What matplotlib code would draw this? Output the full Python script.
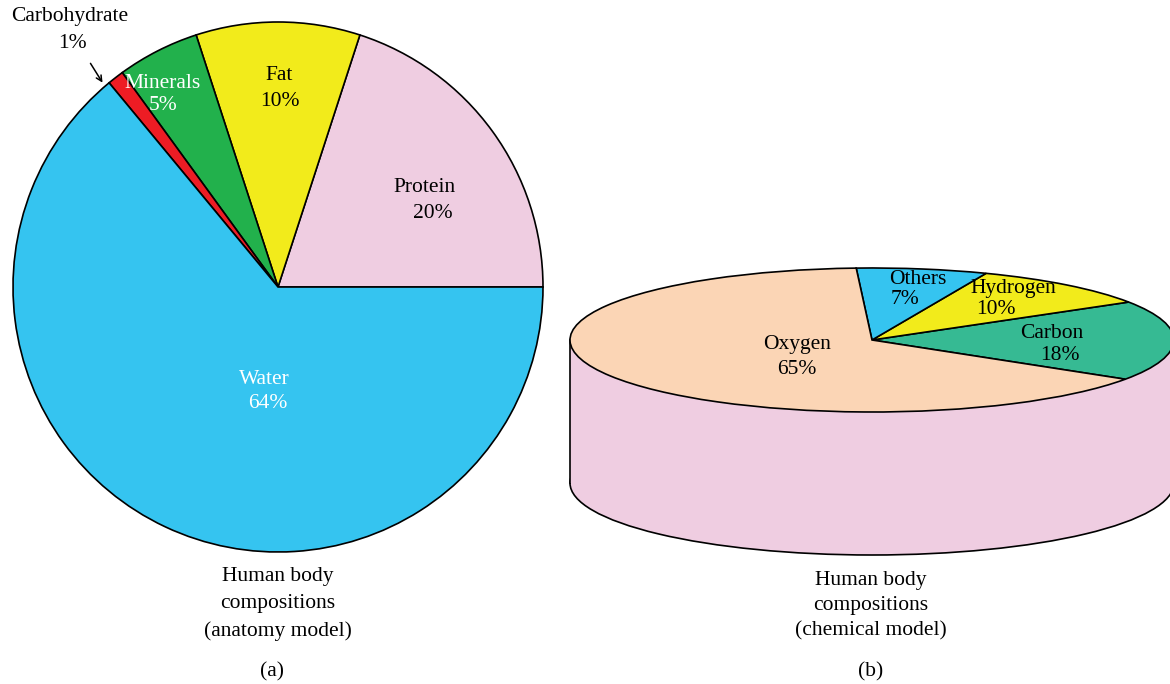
import matplotlib
matplotlib.use("Agg")
import matplotlib.pyplot as plt
from matplotlib.patches import Ellipse, Rectangle
from matplotlib.transforms import Affine2D

plt.rcParams['font.family'] = ['Liberation Serif', 'DejaVu Serif']

# anatomy model (counterclockwise from 3 o'clock)
anat_labels = ['Protein', 'Fat', 'Minerals', 'Carbohydrate', 'Water']
anat_values = [20, 10, 5, 1, 64]
anat_colors = ['#efcde1', '#f2eb1b', '#22b14c', '#ed1c24', '#35c4f0']

# chemical model (counterclockwise)
chem_labels = ['Carbon', 'Hydrogen', 'Others', 'Oxygen']
chem_values = [18, 10, 7, 65]
chem_colors = ['#36ba93', '#f2eb1b', '#35c4f0', '#fbd5b5']
side_color = '#efcde1'

W, H = 1170, 684
fig = plt.figure(figsize=(W / 100, H / 100), dpi=100)
ax = fig.add_axes([0, 0, 1, 1])

def fy(y):
    # image rows -> axes y (up)
    return H - y

edge = dict(edgecolor='black', linewidth=1.2)
fs = 15.5

# ---- left: flat pie ----
lc = (278, fy(287))
ax.pie(anat_values, colors=anat_colors, center=lc, radius=265,
       startangle=0, counterclock=True, wedgeprops=edge)

ax.text(163, fy(83), 'Minerals', color='white', fontsize=fs, ha='center', va='center')
ax.text(163, fy(106), '5%', color='white', fontsize=fs, ha='center', va='center')
ax.text(279, fy(76), 'Fat', fontsize=fs, ha='center', va='center')
ax.text(280, fy(101), '10%', fontsize=fs, ha='center', va='center')
ax.text(425, fy(188), 'Protein', fontsize=fs, ha='center', va='center')
ax.text(433, fy(213), '20%', fontsize=fs, ha='center', va='center')
ax.text(264, fy(379), 'Water', color='white', fontsize=fs, ha='center', va='center')
ax.text(268, fy(404), '64%', color='white', fontsize=fs, ha='center', va='center')
ax.text(70, fy(17), 'Carbohydrate', fontsize=fs, ha='center', va='center')
ax.text(72, fy(44), '1%', fontsize=fs, ha='center', va='center')
ax.annotate('', xy=(104, fy(85)), xytext=(89, fy(61)),
            arrowprops=dict(arrowstyle='->', color='black', lw=1.1))

for i, t in enumerate(['Human body', 'compositions', '(anatomy model)']):
    ax.text(278, fy(576 + 27.5 * i), t, fontsize=fs, ha='center', va='center')
ax.text(272, fy(672), '(a)', fontsize=fs, ha='center', va='center')

# ---- right: tilted pie on a cylinder ----
cx, cy = 872, fy(340)
rx, ry = 302, 72
depth = 143

ax.add_patch(Ellipse((cx, cy - depth), 2 * rx, 2 * ry, facecolor=side_color,
                     edgecolor='black', linewidth=1.2, zorder=1))
ax.add_patch(Rectangle((cx - rx, cy - depth), 2 * rx, depth,
                       facecolor=side_color, edgecolor='none', zorder=1.5))
ax.plot([cx - rx, cx - rx], [cy, cy - depth], color='black', lw=1.2, zorder=1.6)
ax.plot([cx + rx, cx + rx], [cy, cy - depth], color='black', lw=1.2, zorder=1.6)

wedges, _ = ax.pie(chem_values, colors=chem_colors, center=(0, 0), radius=rx,
                   startangle=-33, counterclock=True, wedgeprops=edge)
squash = Affine2D().scale(1, ry / rx).translate(cx, cy) + ax.transData
for w in wedges:
    w.set_transform(squash)
    w.set_zorder(2)

ax.text(797, fy(344), 'Oxygen', fontsize=fs, ha='center', va='center', zorder=3)
ax.text(797, fy(369), '65%', fontsize=fs, ha='center', va='center', zorder=3)
ax.text(889, fy(280), 'Others', fontsize=fs, ha='left', va='center', zorder=3)
ax.text(891, fy(299), '7%', fontsize=fs, ha='left', va='center', zorder=3)
ax.text(1013, fy(289), 'Hydrogen', fontsize=fs, ha='center', va='center', zorder=3)
ax.text(996, fy(310), '10%', fontsize=fs, ha='center', va='center', zorder=3)
ax.text(1052, fy(333), 'Carbon', fontsize=fs, ha='center', va='center', zorder=3)
ax.text(1060, fy(356), '18%', fontsize=fs, ha='center', va='center', zorder=3)

for i, t in enumerate(['Human body', 'compositions', '(chemical model)']):
    ax.text(871, fy(580 + 25.5 * i), t, fontsize=fs, ha='center', va='center')
ax.text(871, fy(672), '(b)', fontsize=fs, ha='center', va='center')

ax.set_xlim(0, W)
ax.set_ylim(0, H)
ax.set_aspect('equal')
ax.axis('off')

fig.savefig('out.png', dpi=100, facecolor='white')
